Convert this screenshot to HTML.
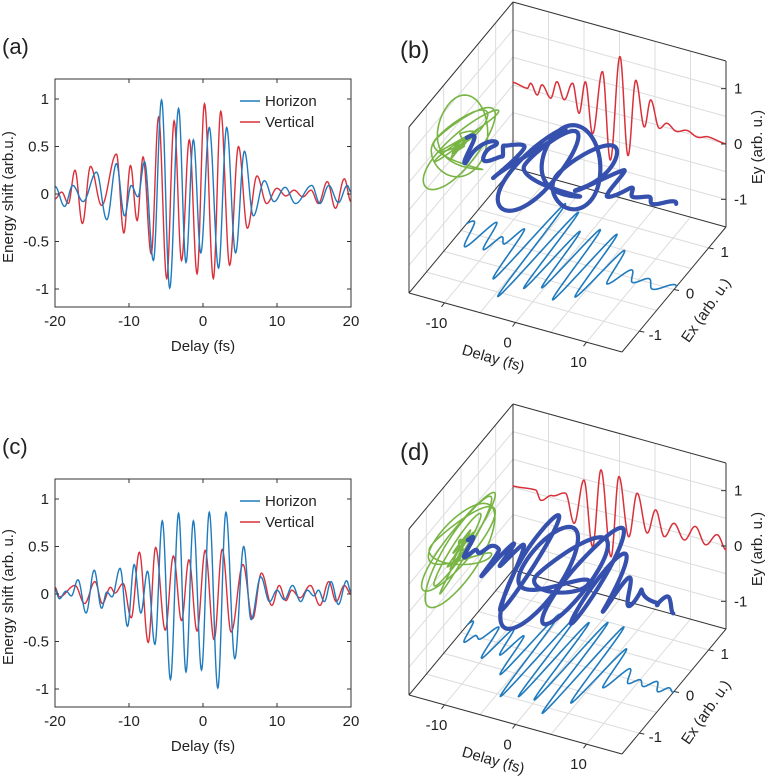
<!DOCTYPE html>
<html><head><meta charset="utf-8">
<style>
html,body{margin:0;padding:0;background:#fff;}
svg{display:block;font-family:"Liberation Sans",Arial,sans-serif;}
</style></head>
<body>
<svg id="fig" width="768" height="777" viewBox="0 0 768 777" xmlns="http://www.w3.org/2000/svg">
<rect x="0" y="0" width="768" height="777" fill="#fff"/>
</svg>
<script>
// ---------- data: extrema (time fs, value) ----------
const hA_t = [-20,-18.7,-17.6,-16.2,-14.4,-13,-11.7,-10.6,-9.7,-8.8,-7.9,-6.7,-5.6,-4.5,-3.3,-2.3,-1.3,-0.3,0.85,2.1,3.2,4.4,5.6,6.8,8.3,9.6,11.1,12.5,14.7,15.8,17,18.3,19.5,20];
const hA_v = [0.08,-0.13,0.09,-0.08,0.23,-0.27,0.32,-0.23,0.09,-0.03,0.34,-0.7,0.99,-0.99,0.9,-0.72,0.57,-0.62,0.7,-0.78,0.7,-0.62,0.45,-0.23,0.14,-0.08,0.07,-0.1,0.09,-0.1,0.09,-0.09,0.09,0.02];
const vA_t = [-20,-19.1,-18.2,-17.3,-16.3,-15.2,-13.7,-11.7,-10.7,-9.8,-8.9,-8.1,-7.0,-6.0,-4.9,-3.9,-2.9,-1.85,-0.8,0.2,1.4,2.4,3.6,4.8,6.0,7.3,8.6,10,11.2,12.3,13.5,14.6,15.6,16.8,17.9,19.1,20];
const vA_v = [-0.05,0.02,-0.1,0.25,-0.31,0.29,-0.12,0.42,-0.41,0.3,-0.28,0.39,-0.63,0.81,-0.89,0.77,-0.7,0.57,-0.84,0.95,-0.89,0.87,-0.75,0.5,-0.36,0.19,-0.1,0.06,-0.02,0.04,-0.03,0.04,-0.1,0.13,-0.15,0.16,-0.08];
const hC_t = [-20,-19.4,-18.5,-17.8,-16.9,-15.8,-14.7,-13.7,-13.0,-12.3,-11.2,-10.2,-9.3,-8.4,-7.5,-6.5,-5.5,-4.4,-3.3,-2.3,-1.3,-0.2,0.85,2.0,3.1,4.3,5.5,6.5,7.8,9.0,10.0,11.0,12.1,13.2,14.1,15.0,15.6,16.4,17.3,18.3,19.4,20];
const hC_v = [0.05,-0.05,0.03,-0.02,0.15,-0.2,0.25,-0.15,0.02,-0.03,0.27,-0.34,0.31,-0.2,0.24,-0.53,0.77,-0.9,0.85,-0.82,0.77,-0.8,0.86,-0.99,0.86,-0.68,0.5,-0.27,0.18,-0.08,0.04,-0.06,0.09,-0.08,0.04,-0.02,0.04,-0.08,0.13,-0.11,0.14,0.02];
const vC_t = [-20,-19.4,-17.3,-16.0,-14.6,-13.6,-12.5,-11.9,-10.8,-9.7,-8.6,-7.4,-6.4,-5.1,-4.0,-2.9,-1.9,-0.8,0.3,1.5,2.6,3.8,5.4,6.7,7.9,9.3,10.3,11.2,12.0,13.1,14.5,15.8,17.0,18.0,19.1,20];
const vC_v = [0.07,-0.03,0.09,-0.1,0.13,-0.1,0.07,0.01,0.11,-0.25,0.44,-0.51,0.49,-0.38,0.4,-0.28,0.36,-0.39,0.46,-0.48,0.47,-0.4,0.31,-0.26,0.22,-0.12,0.09,-0.07,0.04,-0.04,0.09,-0.12,0.13,-0.08,0.09,0];
const eyB_t = [-15,-13,-12.5,-11.6,-10.9,-9.7,-8.8,-7.8,-6.6,-5.7,-4.8,-3.8,-2.4,-1.3,0.07,1.2,2.3,3.5,4.4,5.6,6.7,8,9.5,11,12.5,15];
const eyB_v = [0.05,0.01,0.12,-0.06,0.15,-0.05,0.28,-0.01,0.33,-0.18,0.42,-0.48,0.69,-0.87,1.05,-0.7,0.7,-0.1,0.42,-0.05,0.08,-0.02,0.05,-0.02,0.04,0];
const eyD_t = [-15,-11.8,-11.1,-9.5,-7.6,-6.4,-5.0,-3.8,-2.6,-1.2,-0.07,1.3,2.5,3.9,5.1,6.3,7.7,9.1,10.7,12.1,13.8,15];
const eyD_v = [0.02,0.06,-0.1,0.04,0.15,-0.35,0.48,-0.68,0.75,-0.77,0.72,-0.32,0.51,-0.16,0.3,-0.14,0.15,-0.1,0.2,-0.08,0.16,-0.07];
const xTicks = [-20,-10,0,10,20];
const yTicks = [-1,-0.5,0,0.5,1];
const yTickLabels = ["-1","-0.5","0","0.5","1"];
const dTicks = [-10,0,10];
const eTicks = [-1,0,1];
const exScaleB = 1.1;
const exScaleD = 1.15;

const NS = "http://www.w3.org/2000/svg";
const svg = document.getElementById('fig');
function mk(tag, attrs, parent){ const e=document.createElementNS(NS,tag); for(const k in attrs) e.setAttribute(k,attrs[k]); (parent||svg).appendChild(e); return e; }
function interp(T,V,t){
  if(t<=T[0]) return V[0];
  if(t>=T[T.length-1]) return V[V.length-1];
  for(let i=0;i<T.length-1;i++){
    if(t>=T[i] && t<=T[i+1]){ const u=(t-T[i])/(T[i+1]-T[i]); return V[i]+(V[i+1]-V[i])*(1-Math.cos(Math.PI*u))/2; }
  }
  return 0;
}
const BLUE="#1f7bbd", RED="#d9303a", GREEN="#78b544", DBLUE="#3550ad";

function label(txt,x,y,size,name,anchor,extra){
  const t=mk('text',Object.assign({x:x,y:y,'font-size':size,fill:'#222','text-anchor':anchor||'start'},extra||{}));
  t.textContent=txt;
  
  
  return t;
}

// ---------- 2D panels ----------
function panel2D(y0, tH, vH, tV, vV, tag, ytitle, pfx){
  const g=mk('g',{});
  
  
  const L=55,R=351,T=y0-115,B=y0+113;
  const xs=t=>L+(t+20)/40*(R-L);
  const ys=v=>y0-v*95;
  const clip=mk('clipPath',{id:'clip'+pfx},g);
  mk('rect',{x:L,y:T,width:R-L,height:B-T},clip);
  function series(TT,VV,col,nm){
    let d='';
    for(let t=-20;t<=20.001;t+=0.05){ d+=(d?'L':'M')+xs(t).toFixed(2)+','+ys(interp(TT,VV,t)).toFixed(2); }
    const p=mk('path',{d:d,fill:'none',stroke:col,'stroke-width':1.4,'clip-path':'url(#clip'+pfx+')'},g);
    
    
  }
  series(tV,vV,RED,pfx+'-vertical-line');
  series(tH,vH,BLUE,pfx+'-horizon-line');
  const box=mk('rect',{x:L,y:T,width:R-L,height:B-T,fill:'none',stroke:'#333','stroke-width':1},g);
  
  
  xTicks.forEach(v=>{
    const x=xs(v);
    mk('line',{x1:x,y1:B,x2:x,y2:B-4,stroke:'#333'},g);
    mk('line',{x1:x,y1:T,x2:x,y2:T+4,stroke:'#333'},g);
    label(String(v),x,B+19,15,pfx+'-x-tick-label','middle');
  });
  yTicks.forEach((v,i)=>{
    const y=ys(v);
    mk('line',{x1:L,y1:y,x2:L+4,y2:y,stroke:'#333'},g);
    mk('line',{x1:R,y1:y,x2:R-4,y2:y,stroke:'#333'},g);
    label(yTickLabels[i],49,y+5,15,pfx+'-y-tick-label','end');
  });
  label('Delay (fs)',(L+R)/2,B+44,15,pfx+'-x-axis-title','middle');
  label(ytitle,0,0,15,pfx+'-y-axis-title','middle',{transform:'translate(13,'+(y0+3)+') rotate(-90)'});
  label(tag,2,y0-140,22,pfx+'-panel-label','start');
  const ly=T+22;
  mk('line',{x1:240,y1:ly,x2:260,y2:ly,stroke:BLUE,'stroke-width':1.4},g);
  label('Horizon',265,ly+5,15,pfx+'-legend-horizon','start');
  mk('line',{x1:240,y1:ly+21,x2:260,y2:ly+21,stroke:RED,'stroke-width':1.4},g);
  label('Vertical',265,ly+26,15,pfx+'-legend-vertical','start');
}
panel2D(194,hA_t,hA_v,vA_t,vA_v,'(a)','Energy shift (arb.u.)','a');
panel2D(594,hC_t,hC_v,vC_t,vC_v,'(c)','Energy shift (arb. u.)','c');

// ---------- 3D panels ----------
function panel3D(dy, tH, vH, exScale, tY, vY, tag, pfx){
  const g=mk('g',{});
  
  
  const P=(t,ex,ey)=>[409+213*(t+15)/30+104*(ex+1.5)/3, dy+293+59*(t+15)/30-125*(ex+1.5)/3-166*(ey+1.5)/3];
  const ln=(a,b,col,w,nm)=>{ const l=mk('line',{x1:a[0],y1:a[1],x2:b[0],y2:b[1],stroke:col,'stroke-width':w},g); if(nm){   } return l; };
  const GR='#dcdcdc';
  const gl=[-1,-0.5,0,0.5,1], tl=[-10,-5,0,5,10];
  tl.forEach(t=>{ ln(P(t,1.5,-1.5),P(t,1.5,1.5),GR,1); ln(P(t,-1.5,-1.5),P(t,1.5,-1.5),GR,1); });
  gl.forEach(e=>{ ln(P(-15,1.5,e),P(15,1.5,e),GR,1); ln(P(-15,e,-1.5),P(15,e,-1.5),GR,1);
                  ln(P(-15,e,-1.5),P(-15,e,1.5),GR,1); ln(P(-15,-1.5,e),P(-15,1.5,e),GR,1); });
  const K='#333';
  ln(P(-15,-1.5,-1.5),P(-15,-1.5,1.5),K,1,pfx+'-left-edge');
  ln(P(-15,-1.5,1.5),P(-15,1.5,1.5),K,1);
  ln(P(-15,1.5,1.5),P(15,1.5,1.5),K,1);
  ln(P(15,1.5,1.5),P(15,1.5,-1.5),K,1,pfx+'-ey-axis-line');
  ln(P(-15,1.5,-1.5),P(-15,1.5,1.5),K,1);
  ln(P(-15,-1.5,-1.5),P(15,-1.5,-1.5),K,1,pfx+'-delay-axis-line');
  ln(P(15,-1.5,-1.5),P(15,1.5,-1.5),K,1,pfx+'-ex-axis-line');
  ln(P(-15,-1.5,-1.5),P(-15,1.5,-1.5),K,1);
  ln(P(-15,1.5,-1.5),P(15,1.5,-1.5),K,1);
  const Ex=t=>interp(tH,vH,t)*exScale, Ey=t=>interp(tY,vY,t);
  function curve(fn,col,w,nm){
    let d='';
    for(let t=-15;t<=15.001;t+=0.04){ const p=fn(t); d+=(d?'L':'M')+p[0].toFixed(2)+','+p[1].toFixed(2); }
    const p=mk('path',{d:d,fill:'none',stroke:col,'stroke-width':w,'stroke-linejoin':'round','stroke-linecap':'round'},g);
    
    
  }
  curve(t=>P(-15,Ex(t),Ey(t)),GREEN,1.6,pfx+'-polarization-projection');
  curve(t=>P(t,1.5,Ey(t)),RED,1.5,pfx+'-ey-projection');
  curve(t=>P(t,Ex(t),-1.5),BLUE,1.6,pfx+'-ex-projection');
  curve(t=>P(t,Ex(t),Ey(t)),DBLUE,4.2,pfx+'-field-3d-curve');
  dTicks.forEach(t=>{ const a=P(t,-1.5,-1.5); ln(a,[a[0]-3,a[1]+4],K,1); label(String(t),a[0]-8,a[1]+25,15,pfx+'-delay-tick-label','middle'); });
  eTicks.forEach(e=>{ const a=P(15,e,-1.5); ln(a,[a[0]+5,a[1]+1],K,1); label(String(e),a[0]+16,a[1]+9,15,pfx+'-ex-tick-label','middle'); });
  eTicks.forEach(e=>{ const a=P(15,1.5,e); ln(a,[a[0]-5,a[1]],K,1); label(String(e),a[0]+8,a[1]+5,15,pfx+'-ey-tick-label','start'); });
  label('Ey (arb. u.)',0,0,15,pfx+'-ey-axis-title','middle',{transform:'translate(762,'+(dy+147)+') rotate(-90)'});
  label('Ex (arb. u.)',0,0,15,pfx+'-ex-axis-title','middle',{transform:'translate(710,'+(dy+313)+') rotate(-55)'});
  label('Delay (fs)',0,0,15,pfx+'-delay-axis-title','middle',{transform:'translate(492,'+(dy+363)+') rotate(16)'});
  label(tag,400,dy+58,24,pfx+'-panel-label','start');
}
panel3D(0,hA_t,hA_v,exScaleB,eyB_t,eyB_v,'(b)','b');
panel3D(402,hC_t,hC_v,exScaleD,eyD_t,eyD_v,'(d)','d');
</script>
</body></html>
